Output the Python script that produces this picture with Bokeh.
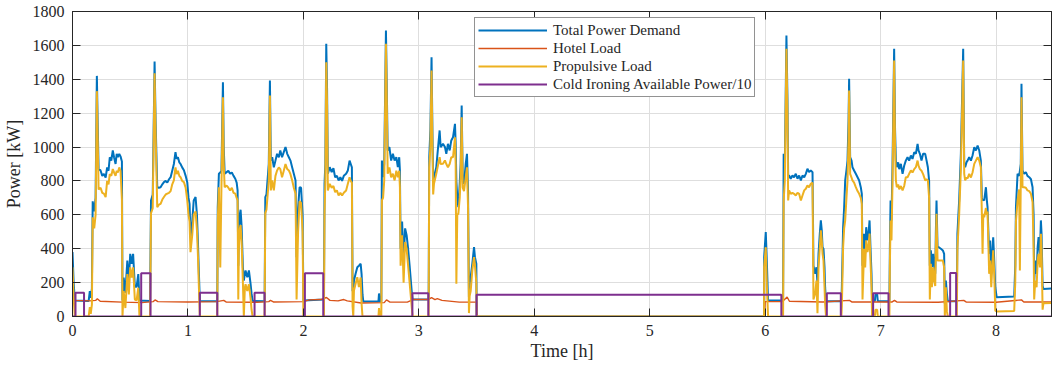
import numpy as np
from bokeh.plotting import figure
from bokeh.models import Range1d, LinearAxis, Legend, LegendItem, FixedTicker
from bokeh.embed import file_html
from bokeh.resources import INLINE

# ---------------- data ----------------
# time [h] for total power demand and propulsive load
t_demand = [
    0.000, 0.010, 0.020, 0.140, 0.150, 0.158, 0.168, 0.175, 0.188, 0.200, 0.211, 0.218,
    0.226, 0.243, 0.258, 0.272, 0.287, 0.300, 0.312, 0.323, 0.336, 0.349, 0.360, 0.373,
    0.383, 0.393, 0.405, 0.416, 0.428, 0.433, 0.443, 0.458, 0.475, 0.488, 0.500, 0.512,
    0.525, 0.540, 0.555, 0.570, 0.580, 0.672, 0.680, 0.695, 0.711, 0.720, 0.734, 0.748,
    0.763, 0.778, 0.792, 0.807, 0.821, 0.836, 0.850, 0.864, 0.878, 0.892, 0.902, 0.913,
    0.925, 0.936, 0.950, 0.965, 0.980, 0.994, 1.005, 1.014, 1.022, 1.037, 1.050, 1.066,
    1.078, 1.086, 1.095, 1.103, 1.254, 1.258, 1.268, 1.280, 1.290, 1.303, 1.310, 1.318,
    1.335, 1.350, 1.365, 1.380, 1.395, 1.410, 1.422, 1.430, 1.436, 1.441, 1.450, 1.456,
    1.465, 1.476, 1.484, 1.493, 1.499, 1.514, 1.528, 1.542, 1.551, 1.560, 1.664, 1.670,
    1.680, 1.700, 1.710, 1.718, 1.730, 1.744, 1.758, 1.772, 1.787, 1.800, 1.815, 1.830,
    1.845, 1.860, 1.874, 1.888, 1.903, 1.917, 1.932, 1.941, 1.954, 1.967, 1.980, 1.993,
    2.000, 2.178, 2.183, 2.190, 2.198, 2.205, 2.212, 2.228, 2.245, 2.260, 2.275, 2.290,
    2.305, 2.320, 2.335, 2.350, 2.370, 2.385, 2.400, 2.410, 2.420, 2.426, 2.432, 2.438,
    2.452, 2.467, 2.481, 2.496, 2.504, 2.512, 2.519, 2.650, 2.655, 2.662, 2.675, 2.680,
    2.690, 2.700, 2.715, 2.722, 2.730, 2.745, 2.760, 2.775, 2.790, 2.805, 2.818, 2.830,
    2.836, 2.842, 2.855, 2.868, 2.881, 2.894, 2.907, 2.920, 2.938, 2.946, 3.085, 3.090,
    3.100, 3.110, 3.118, 3.124, 3.131, 3.151, 3.180, 3.189, 3.209, 3.226, 3.238, 3.252,
    3.267, 3.281, 3.296, 3.313, 3.319, 3.325, 3.333, 3.342, 3.354, 3.362, 3.371, 3.380,
    3.391, 3.406, 3.417, 3.426, 3.434, 3.440, 3.449, 3.463, 3.478, 3.486, 3.498, 3.501,
    5.990, 5.991, 6.005, 6.014, 6.025, 6.155, 6.160, 6.170, 6.184, 6.193, 6.199, 6.207,
    6.221, 6.236, 6.250, 6.265, 6.280, 6.294, 6.309, 6.323, 6.338, 6.352, 6.366, 6.380,
    6.395, 6.410, 6.418, 6.433, 6.444, 6.453, 6.462, 6.473, 6.482, 6.490, 6.497, 6.505,
    6.514, 6.519, 6.527, 6.660, 6.664, 6.675, 6.684, 6.693, 6.704, 6.713, 6.722, 6.727,
    6.736, 6.748, 6.756, 6.770, 6.785, 6.800, 6.814, 6.828, 6.837, 6.843, 6.857, 6.866,
    6.875, 6.886, 6.895, 6.904, 6.912, 6.921, 6.926, 6.950, 6.955, 6.970, 6.975, 7.076,
    7.080, 7.086, 7.094, 7.103, 7.117, 7.125, 7.132, 7.140, 7.152, 7.161, 7.175, 7.190,
    7.204, 7.218, 7.233, 7.247, 7.262, 7.276, 7.291, 7.305, 7.320, 7.328, 7.340, 7.354,
    7.368, 7.386, 7.398, 7.409, 7.420, 7.426, 7.435, 7.444, 7.455, 7.464, 7.473, 7.478,
    7.484, 7.493, 7.502, 7.522, 7.539, 7.550, 7.556, 7.565, 7.574, 7.582, 7.660, 7.665,
    7.680, 7.695, 7.715, 7.724, 7.732, 7.744, 7.753, 7.767, 7.782, 7.796, 7.811, 7.825,
    7.840, 7.854, 7.868, 7.877, 7.883, 7.889, 7.897, 7.912, 7.920, 7.926, 7.940, 7.949,
    7.958, 7.967, 7.975, 7.984, 7.993, 8.005, 8.157, 8.166, 8.172, 8.186, 8.200, 8.206,
    8.214, 8.220, 8.229, 8.243, 8.258, 8.272, 8.287, 8.302, 8.316, 8.325, 8.330, 8.339,
    8.351, 8.360, 8.368, 8.380, 8.388, 8.394, 8.403, 8.410, 8.480,
]
total_kw = [
    380, 200, 95, 92, 150, 110, 165, 680, 620, 700, 1420, 1150,
    870, 862, 830, 842, 820, 880, 860, 940, 920, 980, 940, 900,
    960, 940, 960, 945, 915, 95, 230, 140, 330, 210, 370, 310,
    370, 175, 175, 250, 95, 92, 685, 720, 1505, 1150, 763, 760,
    763, 780, 793, 800, 790, 810, 822, 860, 900, 970, 930, 940,
    910, 900, 880, 863, 830, 793, 700, 665, 468, 560, 685, 705,
    600, 450, 252, 92, 90, 645, 842, 850, 860, 1383, 1000, 842,
    852, 860, 842, 850, 830, 813, 790, 744, 300, 488, 606, 630,
    531, 290, 212, 252, 271, 232, 272, 195, 135, 92, 90, 705,
    720, 900, 1393, 920, 940, 880, 920, 960, 940, 980, 940, 970,
    1000, 960, 940, 920, 880, 842, 803, 350, 640, 763, 760, 600,
    95, 100, 783, 900, 1609, 1345, 842, 881, 852, 875, 822, 830,
    803, 822, 800, 830, 842, 862, 920, 900, 880, 150, 150, 212,
    252, 291, 300, 311, 250, 130, 88, 88, 136, 88, 88, 920,
    822, 900, 1688, 1375, 980, 1000, 920, 960, 920, 940, 881, 940,
    862, 400, 560, 330, 520, 480, 400, 300, 150, 100, 100, 940,
    1100, 1530, 1078, 803, 822, 881, 1098, 999, 1019, 1000, 960, 1019,
    980, 1039, 1058, 1137, 1019, 800, 704, 645, 783, 901, 1245, 822,
    783, 901, 960, 744, 114, 193, 232, 311, 409, 350, 311, 0,
    0, 350, 498, 330, 94, 94, 960, 900, 1658, 1285, 832, 832,
    813, 832, 822, 842, 813, 832, 803, 832, 822, 842, 872, 852,
    862, 852, 300, 252, 291, 193, 370, 488, 567, 508, 409, 400,
    291, 173, 90, 90, 173, 527, 645, 803, 862, 920, 1157, 1403,
    940, 920, 881, 862, 842, 822, 803, 763, 724, 300, 488, 370,
    527, 449, 488, 567, 409, 252, 92, 92, 130, 130, 92, 90,
    400, 685, 567, 901, 1580, 1100, 920, 881, 910, 870, 901, 842,
    890, 920, 940, 920, 950, 930, 970, 960, 1019, 980, 960, 920,
    960, 960, 920, 881, 800, 300, 390, 291, 370, 291, 252, 488,
    685, 409, 409, 400, 390, 370, 75, 212, 134, 90, 90, 488,
    685, 960, 1580, 901, 881, 910, 920, 940, 920, 950, 999, 980,
    1009, 980, 920, 700, 685, 690, 685, 763, 685, 645, 370, 449,
    252, 370, 468, 330, 173, 114, 118, 300, 645, 842, 830, 860,
    900, 1373, 862, 842, 852, 830, 822, 810, 763, 600, 200, 330,
    252, 409, 468, 370, 567, 488, 180, 163, 165,
]
prop_kw = [
    290, 110, 0, 0, 55, 15, 70, 585, 520, 600, 1330, 1060,
    750, 760, 730, 725, 705, 800, 780, 840, 830, 870, 850, 830,
    860, 850, 880, 860, 690, 0, 150, 50, 250, 130, 290, 230,
    290, 100, 95, 170, 0, 0, 610, 640, 1435, 1080, 645, 660,
    665, 690, 705, 720, 725, 730, 740, 780, 803, 880, 840, 860,
    830, 822, 800, 793, 760, 685, 600, 560, 380, 480, 600, 620,
    510, 370, 170, 0, 0, 560, 763, 290, 760, 1294, 900, 763,
    773, 760, 744, 760, 730, 725, 700, 685, 100, 400, 520, 540,
    440, 200, 0, 170, 190, 150, 190, 110, 40, 0, 0, 610,
    630, 800, 1304, 744, 803, 744, 830, 862, 880, 870, 822, 860,
    900, 870, 862, 840, 803, 760, 725, 100, 500, 680, 670, 500,
    0, 0, 605, 800, 1501, 1250, 744, 783, 760, 770, 734, 744,
    714, 730, 714, 730, 744, 783, 822, 800, 790, 60, 0, 153,
    193, 232, 173, 230, 75, 0, 0, 0, 50, 0, 0, 685,
    700, 800, 1609, 1300, 842, 880, 822, 842, 803, 860, 822, 860,
    763, 300, 480, 200, 440, 400, 300, 200, 60, 0, 0, 881,
    1000, 1452, 990, 720, 783, 842, 940, 900, 901, 921, 900, 881,
    900, 940, 940, 1058, 900, 193, 600, 606, 700, 820, 1176, 760,
    740, 820, 880, 650, 20, 120, 150, 271, 350, 300, 200, 0,
    0, 291, 409, 193, 0, 0, 685, 800, 1580, 1200, 685, 744,
    724, 730, 724, 714, 730, 724, 685, 714, 744, 754, 773, 763,
    783, 790, 100, 134, 212, 20, 291, 409, 508, 449, 370, 330,
    173, 75, 0, 0, 60, 409, 520, 567, 700, 800, 1050, 1334,
    842, 820, 803, 790, 763, 740, 724, 700, 665, 100, 400, 290,
    450, 380, 410, 490, 330, 170, 0, 0, 40, 40, 0, 0,
    300, 567, 449, 800, 1511, 1000, 803, 763, 780, 750, 770, 744,
    770, 822, 822, 842, 862, 850, 870, 881, 920, 890, 870, 860,
    840, 803, 810, 803, 700, 100, 311, 173, 290, 212, 180, 400,
    606, 330, 330, 330, 330, 291, 0, 173, 30, 0, 0, 400,
    600, 870, 1511, 842, 803, 820, 815, 842, 820, 850, 901, 920,
    940, 920, 881, 600, 370, 606, 586, 640, 600, 620, 252, 330,
    173, 290, 390, 252, 35, 30, 32, 200, 560, 685, 750, 271,
    800, 1294, 763, 763, 760, 744, 740, 724, 675, 400, 100, 212,
    173, 330, 370, 290, 488, 400, 40, 78, 80,
]

# hotel load
t_hotel = [
    0.000, 0.020, 0.150, 0.200, 0.215, 0.240, 0.430, 0.600, 0.700, 0.715, 0.740, 1.000,
    1.250, 1.310, 1.330, 1.600, 1.700, 1.715, 1.740, 2.000, 2.050, 2.150, 2.200, 2.230,
    2.300, 2.350, 2.380, 2.500, 2.700, 2.720, 2.750, 2.900, 2.950, 3.080, 3.110, 3.140,
    3.160, 3.200, 3.350, 3.500, 3.501, 5.995, 6.000, 6.150, 6.190, 6.210, 6.500, 6.730,
    6.750, 7.100, 7.120, 7.140, 7.500, 7.720, 7.740, 8.000, 8.220, 8.240, 8.480,
]
hotel_kw = [
    100, 95, 92, 95, 105, 90, 85, 82, 88, 98, 88, 86,
    88, 95, 86, 84, 88, 95, 86, 88, 98, 100, 112, 95,
    92, 100, 92, 80, 82, 98, 85, 85, 100, 100, 112, 100,
    105, 95, 85, 85, 0, 0, 88, 88, 115, 90, 86, 95,
    86, 86, 95, 86, 84, 95, 86, 84, 98, 86, 86,
]

# cold ironing available power / 10 : pulses (start, end, level)
ci_on = [0.026, 0.595, 1.103, 1.577, 2.013, 2.944, 3.500, 6.534, 6.935, 7.602]
ci_off = [0.100, 0.676, 1.254, 1.664, 2.172, 3.082, 6.140, 6.655, 7.068, 7.654]
ci_level = [140, 255, 140, 140, 255, 137, 128, 137, 137, 256]
t_end = 8.48

x_ticks = [0, 1, 2, 3, 4, 5, 6, 7, 8]
y_ticks = [0, 200, 400, 600, 800, 1000, 1200, 1400, 1600, 1800]

# build the step path of the cold-ironing signal from the pulse table
ci_t, ci_v = [0.0], [0]
for a, b, lv in zip(ci_on, ci_off, ci_level):
    ci_t += [a, a, b, b]
    ci_v += [0, lv, lv, 0]
ci_t.append(t_end)
ci_v.append(0)

# ---------------- figure ----------------
FONT = "Liberation Serif"
AX = "#262626"

p = figure(width=1052, height=369, output_backend="svg", toolbar_location=None,
           x_range=Range1d(0, t_end), y_range=Range1d(0, 1800),
           min_border_left=72, min_border_right=1, min_border_top=11,
           min_border_bottom=53)
p.background_fill_color = "white"
p.border_fill_color = "white"
p.outline_line_color = AX
p.outline_line_width = 1

def style_axis(ax, ticks, show_labels=True):
    ax.ticker = FixedTicker(ticks=ticks)
    ax.major_tick_in = 8
    ax.major_tick_out = 0
    ax.minor_tick_in = 0
    ax.minor_tick_out = 0
    ax.major_tick_line_color = AX
    ax.axis_line_color = AX
    ax.major_label_text_font = FONT
    if show_labels:
        ax.major_label_text_color = AX
        ax.major_label_text_font_size = "16px"
        ax.major_label_standoff = 8
    else:
        ax.major_label_text_color = None
        ax.major_label_text_font_size = "1px"
        ax.major_label_standoff = 0

style_axis(p.xaxis[0], x_ticks)
style_axis(p.yaxis[0], y_ticks)
p.xaxis.axis_label = "Time [h]"
p.yaxis.axis_label = "Power [kW]"
for ax in (p.xaxis[0], p.yaxis[0]):
    ax.axis_label_text_font = FONT
    ax.axis_label_text_font_size = "18px"
    ax.axis_label_text_font_style = "normal"
    ax.axis_label_text_color = AX
p.xaxis.axis_label_standoff = 2
p.yaxis.axis_label_standoff = 6

top = LinearAxis()
right = LinearAxis()
style_axis(top, x_ticks, False)
style_axis(right, y_ticks, False)
p.add_layout(top, "above")
p.add_layout(right, "right")

p.xgrid.ticker = FixedTicker(ticks=x_ticks)
p.ygrid.ticker = FixedTicker(ticks=y_ticks)
for g in (p.xgrid, p.ygrid):
    g.grid_line_color = "#dedede"
    g.grid_line_width = 1

r_tot = p.line(t_demand, total_kw, line_color="#0072BD", line_width=2)
r_hot = p.line(t_hotel, hotel_kw, line_color="#D95319", line_width=1.4)
r_pro = p.line(t_demand, prop_kw, line_color="#EDB120", line_width=2)
r_ci = p.line(ci_t, ci_v, line_color="#7E2F8E", line_width=2)

legend = Legend(items=[
    LegendItem(label="Total Power Demand", renderers=[r_tot]),
    LegendItem(label="Hotel Load", renderers=[r_hot]),
    LegendItem(label="Propulsive Load", renderers=[r_pro]),
    LegendItem(label="Cold Ironing Available Power/10", renderers=[r_ci]),
], location=(402, 219))
legend.label_text_font = FONT
legend.label_text_font_size = "15px"
legend.label_text_color = AX
legend.glyph_width = 69
legend.glyph_height = 18
legend.label_height = 18
legend.label_standoff = 6
legend.spacing = 0
legend.padding = 3
legend.margin = 0
legend.border_line_color = AX
legend.border_line_width = 1
legend.background_fill_alpha = 1
p.add_layout(legend, "center")

open("out.html", "w").write(file_html(p, INLINE))
